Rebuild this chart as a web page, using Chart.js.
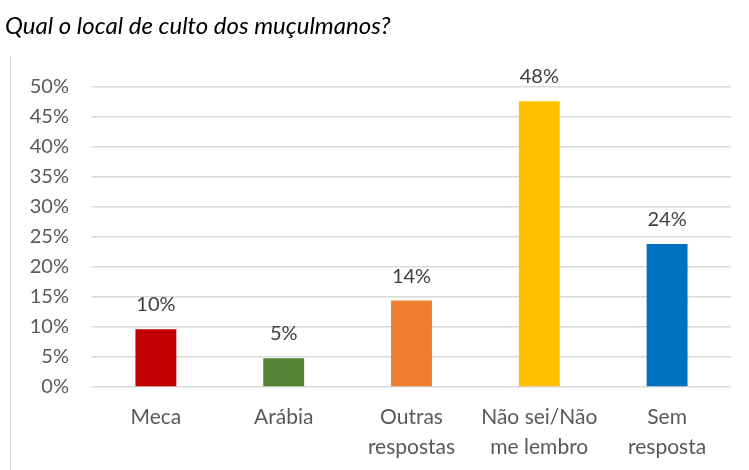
<!DOCTYPE html>
<html>
<head>
<meta charset="utf-8">
<script src="https://cdn.jsdelivr.net/npm/chart.js@4.4.1/dist/chart.umd.min.js"></script>
<style>
html,body{margin:0;padding:0;background:#fff;}
#wrap{width:749px;height:470px;position:relative;}
</style>
</head>
<body>
<div id="wrap"><canvas id="c" width="749" height="470"></canvas></div>
<script>
const titleText = 'Qual o local de culto dos muçulmanos?';
const categories = [['Meca'], ['Arábia'], ['Outras', 'respostas'], ['Não sei/Não', 'me lembro'], ['Sem', 'resposta']];
const values = [9.6, 4.8, 14.4, 47.6, 23.8];
const valueLabels = ['10%', '5%', '14%', '48%', '24%'];
const barColors = ['#C00000', '#548235', '#ED7D31', '#FFC000', '#0070C0'];
const yTicksMin = 0, yTicksMax = 50, yTicksStep = 5;

const FONT = 'Lato, "Open Sans", sans-serif';

const decor = {
  id: 'decor',
  beforeDraw(chart) {
    const ctx = chart.ctx;
    ctx.save();
    ctx.strokeStyle = '#d9d9d9';
    ctx.lineWidth = 1;
    ctx.beginPath();
    ctx.moveTo(10.5, 55);
    ctx.lineTo(10.5, 470);
    ctx.stroke();
    ctx.restore();
  },
  afterDatasetsDraw(chart) {
    const ctx = chart.ctx;
    const meta = chart.getDatasetMeta(0);
    ctx.save();
    ctx.fillStyle = '#404040';
    ctx.font = '20px ' + FONT;
    ctx.textAlign = 'center';
    ctx.textBaseline = 'alphabetic';
    meta.data.forEach((bar, i) => {
      ctx.fillText(valueLabels[i], bar.x, bar.y - 18);
    });
    ctx.restore();
  }
};

new Chart(document.getElementById('c'), {
  type: 'bar',
  data: {
    labels: categories,
    datasets: [{
      data: values,
      backgroundColor: barColors,
      borderWidth: 0,
      categoryPercentage: 1,
      barPercentage: 0.32
    }]
  },
  options: {
    responsive: false,
    animation: false,
    devicePixelRatio: 1,
    layout: { padding: { left: 5, right: 18, top: 0, bottom: 8 } },
    plugins: {
      legend: { display: false },
      tooltip: { enabled: false },
      title: {
        display: true,
        text: titleText,
        align: 'start',
        color: '#000',
        font: { family: FONT, size: 24, style: 'italic', weight: 'normal', lineHeight: 1.2 },
        padding: { top: 12, bottom: 46 }
      }
    },
    scales: {
      x: {
        grid: { display: false, drawTicks: false },
        border: { display: false },
        afterFit(scale) { scale.height = 75; },
        ticks: {
          color: '#595959',
          font: { family: FONT, size: 21, lineHeight: 1.4 },
          padding: 16,
          maxRotation: 0,
          autoSkip: false
        }
      },
      y: {
        min: yTicksMin,
        max: yTicksMax,
        grid: { color: '#d9d9d9', lineWidth: 1.5, drawTicks: false },
        border: { display: false },
        afterFit(scale) { scale.width = 87; },
        ticks: {
          stepSize: yTicksStep,
          color: '#595959',
          font: { family: FONT, size: 20 },
          padding: 23,
          callback: v => v + '%'
        }
      }
    }
  },
  plugins: [decor]
});
</script>
</body>
</html>
